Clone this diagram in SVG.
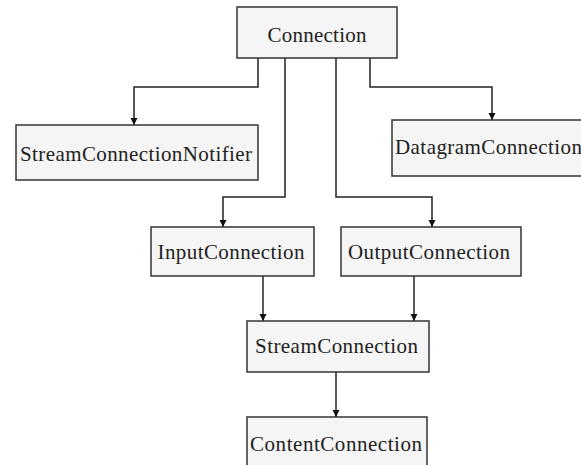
<svg xmlns="http://www.w3.org/2000/svg" width="581" height="465" viewBox="0 0 581 465">
<style>
.box{fill:#f5f5f5;stroke:#333;stroke-width:1.5}
.lbl{font-family:"Liberation Serif","Times New Roman",serif;font-size:21px;fill:#222;text-anchor:middle}
.edge{fill:none;stroke:#222;stroke-width:1.5}
</style>
<defs>
<marker id="ah" markerUnits="userSpaceOnUse" markerWidth="8" markerHeight="8" viewBox="0 0 8 8" refX="8" refY="4" orient="auto">
<path d="M1,0.5 L8,4 L1,7.5 Z" fill="#111"/>
</marker>
</defs>
<rect width="581" height="465" fill="#fff"/>
<g id="connectors">
<path class="edge" d="M258,58 V87 H134 V125" marker-end="url(#ah)"/>
<path class="edge" d="M285,58 V197 H223 V227" marker-end="url(#ah)"/>
<path class="edge" d="M336,58 V197 H432 V227" marker-end="url(#ah)"/>
<path class="edge" d="M370,58 V87 H492 V120" marker-end="url(#ah)"/>
<path class="edge" d="M263,276 V321" marker-end="url(#ah)"/>
<path class="edge" d="M414,276 V321" marker-end="url(#ah)"/>
<path class="edge" d="M336,372 V417" marker-end="url(#ah)"/>
</g>
<g id="Connection">
<rect class="box" x="237" y="7" width="160" height="51"/>
<text class="lbl" x="317" y="42" textLength="99" lengthAdjust="spacing">Connection</text>
</g>
<g id="StreamConnectionNotifier">
<rect class="box" x="16" y="125" width="242" height="55"/>
<text class="lbl" x="136" y="161" textLength="232" lengthAdjust="spacing">StreamConnectionNotifier</text>
</g>
<g id="DatagramConnection">
<rect class="box" x="392" y="120" width="200" height="56"/>
<text class="lbl" x="395" y="154" style="text-anchor:start" textLength="187" lengthAdjust="spacing">DatagramConnection</text>
</g>
<g id="InputConnection">
<rect class="box" x="151" y="227" width="163" height="49"/>
<text class="lbl" x="231" y="259" textLength="147" lengthAdjust="spacing">InputConnection</text>
</g>
<g id="OutputConnection">
<rect class="box" x="341" y="227" width="180" height="49"/>
<text class="lbl" x="429" y="259" textLength="162" lengthAdjust="spacing">OutputConnection</text>
</g>
<g id="StreamConnection">
<rect class="box" x="247" y="321" width="182" height="51"/>
<text class="lbl" x="336.5" y="353" textLength="163" lengthAdjust="spacing">StreamConnection</text>
</g>
<g id="ContentConnection">
<rect class="box" x="247" y="417" width="180" height="60"/>
<text class="lbl" x="336" y="451" textLength="172" lengthAdjust="spacing">ContentConnection</text>
</g>
</svg>
